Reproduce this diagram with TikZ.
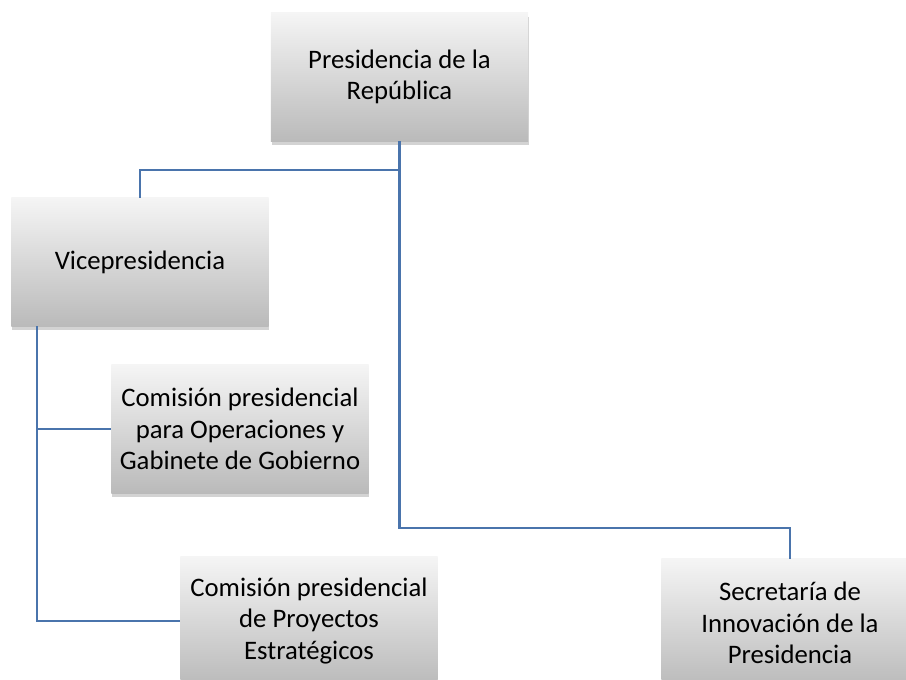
\documentclass[tikz,border=0pt]{standalone}
\usepackage{fontspec}
\setmainfont{Carlito}
\usetikzlibrary{shadows}
\definecolor{linkblue}{HTML}{4A74AC}

\begin{document}
\begin{tikzpicture}[x=0.025cm,y=-0.025cm]
\tikzstyle{unit}=[rectangle, align=center, minimum width=6.425cm, minimum height=3.2cm,
  top color=white!96!black, bottom color=black!27, draw=none,
  drop shadow={opacity=0.35, shadow xshift=0.4pt, shadow yshift=-2.5pt},
  font=\fontsize{19}{22.5}\selectfont]
\tikzstyle{link}=[draw=linkblue, line width=1.7pt]
\useasboundingbox (0,0) rectangle (906,679);
\clip (0,0) rectangle (906,679);
\node[unit] (pres) at (399.5,77) {Presidencia de la\\República};
\node[unit] (vice) at (140,262) {Vicepresidencia};
\node[unit] (ops) at (240,429) {Comisión presidencial\\para Operaciones y\\Gabinete de Gobierno};
\node[unit] (proy) at (309,621) {Comisión presidencial\\de Proyectos\\Estratégicos};
\node[unit] (secr) at (790,623) {Secretaría de\\Innovación de la\\Presidencia};
\coordinate (hub) at (399.5,170);
\coordinate (drop) at (399.5,528);
\draw[link] (pres) -- (hub) -| (vice);
\draw[link] (hub) -- (drop) -| (secr);
\draw[link] ([xshift=0.65cm]vice.south west) |- (ops.west);
\draw[link] ([xshift=0.65cm]vice.south west) |- (proy.west);
\end{tikzpicture}
\end{document}
